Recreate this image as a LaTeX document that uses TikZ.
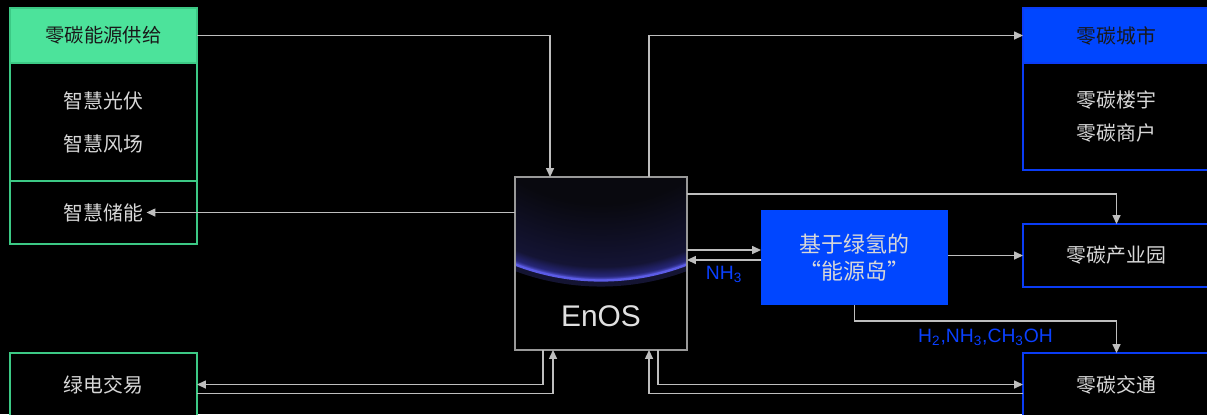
\documentclass[tikz,border=0pt]{standalone}
\usepackage{fontspec}
\setmainfont{Noto Sans CJK SC}
\newfontfamily\latinsf{Liberation Sans}
\usetikzlibrary{arrows.meta, calc, positioning}
\definecolor{zcgreen}{HTML}{4CE39B}
\definecolor{zcgreenline}{HTML}{3CC985}
\definecolor{zcblue}{HTML}{0046FF}
\definecolor{zcblueline}{HTML}{0A3CF5}
\definecolor{linegray}{HTML}{BEBEBE}
\definecolor{textgray}{HTML}{D8D8D8}
\definecolor{labelblue}{HTML}{0A40FF}
\definecolor{pnA}{HTML}{09090F}
\definecolor{pnB}{HTML}{141434}
\definecolor{pnC}{HTML}{262678}
\definecolor{pnRim}{HTML}{5C5CE6}
\pgfdeclareradialshading{planet}{\pgfpoint{0bp}{0bp}}{color(0bp)=(pnA); color(17bp)=(pnA); color(23.6bp)=(pnB); color(24.6bp)=(pnC); color(25bp)=(pnRim); color(50bp)=(pnRim)}
\tikzset{
	cjktext/.style={font=\fontsize{11.3}{13.6}\selectfont, text=textgray}
}
\tikzset{
	greenbox/.style={cjktext, draw=zcgreenline, line width=1pt, fill=black, minimum width=3.74cm, inner sep=0pt, outer sep=0pt, align=center}
}
\tikzset{
	greenhead/.style={greenbox, fill=zcgreen, text=black!90, minimum height=1.1cm, font=\fontsize{11}{13}\selectfont}
}
\tikzset{
	bluebox/.style={cjktext, draw=zcblueline, line width=1pt, fill=black, minimum width=3.74cm, inner sep=0pt, outer sep=0pt, align=center}
}
\tikzset{
	bluehead/.style={bluebox, fill=zcblue, text=black!90, minimum height=1.1cm}
}
\tikzset{
	arr/.style={draw=linegray, line width=0.7pt, -{Triangle[length=5pt,width=4.5pt]}}
}
\tikzset{
	chemlabel/.style={font=\latinsf\fontsize{11}{13}\selectfont, text=labelblue, inner sep=1pt}
}

\begin{document}
\begin{tikzpicture}[x=0.02cm, y=-0.02cm]
      \useasboundingbox (0,0) rectangle (1207,414);
      \fill[black] (0,0) rectangle (1207,414);
      \node[greenhead] (supply) at (103.5,35.5) {零碳能源供给};
      \node[greenbox, minimum height=2.36cm, font=\fontsize{11.3}{24.4}\selectfont] (pvwind) at (103.5,122) {智慧光伏\\智慧风场};
      \node[greenbox, minimum height=1.26cm] (storage) at (103.5,212.5) {智慧储能};
      \node[greenbox, minimum height=1.26cm] (trade) at (103.5,384.5) {绿电交易};
      \node[fill=black, minimum width=3.44cm, minimum height=3.46cm, inner sep=0pt, outer sep=0pt] (enos) at (601,263.5) {};
      \begin{scope}
        \clip (enos.north west) rectangle (enos.south east);
        \fill[shading=planet] (601,41) circle[radius=4.78cm];
        \draw[pnRim, line width=3.5pt, opacity=.22] (601,41) circle[radius=4.85cm];
        \draw[pnRim, line width=1.3pt] (601,41) circle[radius=4.79cm];
      \end{scope}
      \draw[gray!80, line width=0.7pt] (enos.north west) rectangle (enos.south east);
      \node[font=\latinsf\fontsize{17}{20}\selectfont, text=white!88!black] (enoslogo) at (601,316) {EnOS};
      \node[fill=zcblue, minimum width=3.74cm, minimum height=1.9cm, inner sep=0pt, outer sep=0pt, align=center, font=\fontsize{12.5}{15.3}\selectfont, text=textgray] (island) at (854.5,257.5) {基于绿氢的\\“能源岛”};
      \node[bluehead] (cityhead) at (1116.5,35.5) {零碳城市};
      \node[bluebox, minimum height=2.14cm, font=\fontsize{11.3}{18.7}\selectfont] (city) at (1116.5,116.5) {零碳楼宇\\零碳商户};
      \node[bluebox, minimum height=1.26cm] (park) at (1116.5,255.5) {零碳产业园};
      \node[bluebox, minimum height=1.26cm] (traffic) at (1116.5,384.5) {零碳交通};
      \draw[arr] (supply.east) -| ($(enos.north west)+(35,0)$);
      \draw[arr] (enos.west |- storage) -- ($(storage.center)+(43,0)$);
      \draw[arr] ($(enos.north west)+(134,0)$) |- (cityhead.west);
      \draw[arr] ($(enos.north east)+(0,17)$) -| (park.north);
      \draw[arr] ($(enos.east)+(0,-13.5)$) coordinate (toisland) -- (toisland -| island.west);
      \draw[arr] ($(island.west)+(0,2.5)$) coordinate (fromisland) -- node[below=2pt, chemlabel] {NH\textsubscript{3}} (fromisland -| enos.east);
      \draw[arr] (island.east |- park) -- (park.west);
      \draw[arr] (island.south) -- ++(0,16) -| node[pos=.25, below=3pt, chemlabel] {H\textsubscript{2},NH\textsubscript{3},CH\textsubscript{3}OH} (traffic.north);
      \draw[arr] ($(enos.south west)+(28,0)$) |- (trade.east);
      \draw[arr] ($(trade.east)+(0,9)$) -| ($(enos.south west)+(38,0)$);
      \draw[arr] ($(enos.south west)+(143,0)$) |- (traffic.west);
      \draw[arr] ($(traffic.west)+(0,9)$) -| ($(enos.south west)+(134,0)$);
    \end{tikzpicture}
\end{document}
